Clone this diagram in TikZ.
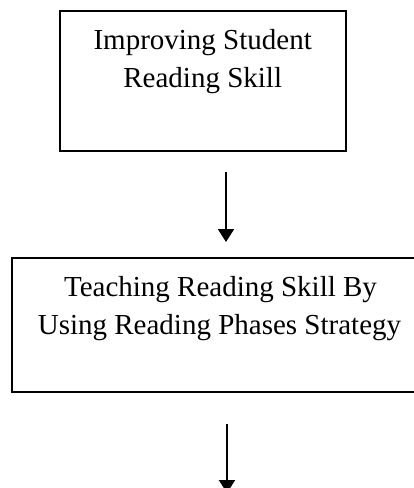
\documentclass[tikz,border=0pt]{standalone}
\usepackage{fontspec}
\setmainfont{Liberation Serif}
\usetikzlibrary{arrows.meta}
\begin{document}
\begin{tikzpicture}[x=1pt,y=-1pt,
  boxnode/.style={draw=black, line width=2pt, rectangle, inner sep=0pt, fill=none},
  txt/.style={inner sep=0pt, anchor=base, font=\fontsize{29}{38}\selectfont},
  arr/.style={line width=2pt, -{Triangle[length=13pt,width=16pt]}}]
\useasboundingbox (0,0) rectangle (414,488);
\clip (0,0) rectangle (414,488);
\fill[white] (0,0) rectangle (414,488);
% boxes
\node[boxnode, minimum width=285.7pt, minimum height=140pt] (b1) at (202.85,81) {};
\node[boxnode, minimum width=416.6pt, minimum height=134pt] (b2) at (220,324.7) {};
% texts
\node[txt] (t1a) at (202.7,49) {Improving Student};
\node[txt] (t1b) at (202.7,87.3) {Reading Skill};
\node[txt] (t2a) at (220.5,296) {Teaching Reading Skill By};
\node[txt] (t2b) at (219.5,334.3) {Using Reading Phases Strategy};
% arrows
\coordinate (a1s) at (226,172.3);
\coordinate (a1e) at (226,242);
\coordinate (a2s) at (227,424);
\coordinate (a2e) at (227,493);
\draw[arr] (a1s) -- (a1e);
\draw[arr] (a2s) -- (a2e);
\end{tikzpicture}
\end{document}
